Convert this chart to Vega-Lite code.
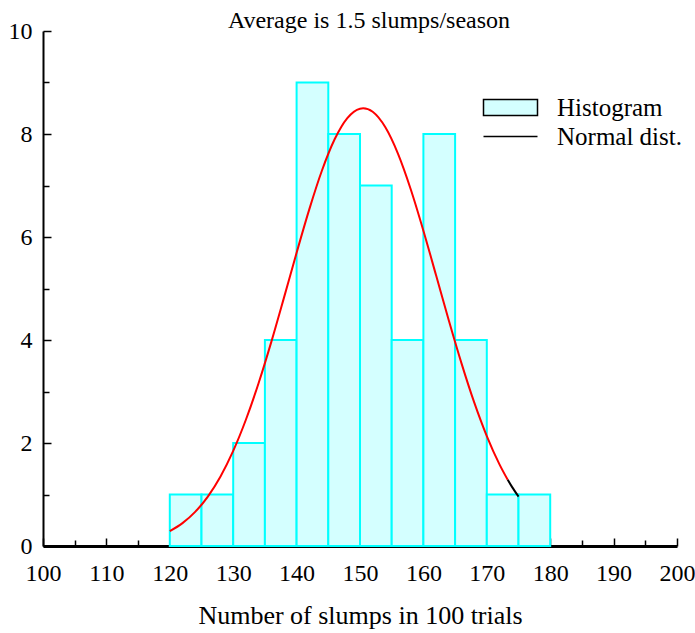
{
  "$schema": "https://vega.github.io/schema/vega-lite/v6.json",
  "width": 634,
  "height": 515,
  "autosize": "none",
  "padding": {"left": 43, "top": 31, "right": 18, "bottom": 87},
  "background": "white",
  "config": {"view": {"stroke": null}},
  "title": {"text": "Average is 1.5 slumps/season", "font": "Liberation Serif", "fontSize": 24, "fontWeight": "normal", "color": "black", "anchor": "middle", "baseline": "alphabetic", "offset": 3, "dx": 9, "dy": 36},
  "datasets": {
    "hist": [
      {"bin_start": 120, "bin_end": 125, "count": 1, "series": "Histogram"},
      {"bin_start": 125, "bin_end": 130, "count": 1, "series": "Histogram"},
      {"bin_start": 130, "bin_end": 135, "count": 2, "series": "Histogram"},
      {"bin_start": 135, "bin_end": 140, "count": 4, "series": "Histogram"},
      {"bin_start": 140, "bin_end": 145, "count": 9, "series": "Histogram"},
      {"bin_start": 145, "bin_end": 150, "count": 8, "series": "Histogram"},
      {"bin_start": 150, "bin_end": 155, "count": 7, "series": "Histogram"},
      {"bin_start": 155, "bin_end": 160, "count": 4, "series": "Histogram"},
      {"bin_start": 160, "bin_end": 165, "count": 8, "series": "Histogram"},
      {"bin_start": 165, "bin_end": 170, "count": 4, "series": "Histogram"},
      {"bin_start": 170, "bin_end": 175, "count": 1, "series": "Histogram"},
      {"bin_start": 175, "bin_end": 180, "count": 1, "series": "Histogram"}
    ],
    "curve": [
      {"x": 120, "y": 0.289, "seg": "r"},
      {"x": 122, "y": 0.444, "seg": "r"},
      {"x": 124, "y": 0.662, "seg": "r"},
      {"x": 126, "y": 0.960, "seg": "r"},
      {"x": 128, "y": 1.351, "seg": "r"},
      {"x": 130, "y": 1.846, "seg": "r"},
      {"x": 132, "y": 2.451, "seg": "r"},
      {"x": 134, "y": 3.160, "seg": "r"},
      {"x": 136, "y": 3.959, "seg": "r"},
      {"x": 138, "y": 4.818, "seg": "r"},
      {"x": 140, "y": 5.694, "seg": "r"},
      {"x": 142, "y": 6.537, "seg": "r"},
      {"x": 144, "y": 7.291, "seg": "r"},
      {"x": 146, "y": 7.897, "seg": "r"},
      {"x": 148, "y": 8.309, "seg": "r"},
      {"x": 150, "y": 8.492, "seg": "r"},
      {"x": 150.5, "y": 8.5, "seg": "r"},
      {"x": 152, "y": 8.431, "seg": "r"},
      {"x": 154, "y": 8.130, "seg": "r"},
      {"x": 156, "y": 7.615, "seg": "r"},
      {"x": 158, "y": 6.928, "seg": "r"},
      {"x": 160, "y": 6.123, "seg": "r"},
      {"x": 162, "y": 5.256, "seg": "r"},
      {"x": 164, "y": 4.383, "seg": "r"},
      {"x": 166, "y": 3.551, "seg": "r"},
      {"x": 168, "y": 2.793, "seg": "r"},
      {"x": 170, "y": 2.135, "seg": "r"},
      {"x": 172, "y": 1.585, "seg": "r"},
      {"x": 173.3, "y": 1.285, "seg": "r"},
      {"x": 173.3, "y": 1.285, "seg": "b"},
      {"x": 174, "y": 1.143, "seg": "b"},
      {"x": 175, "y": 0.960, "seg": "b"}
    ]
  },
  "resolve": {"axis": {"x": "independent", "y": "independent"}},
  "layer": [
    {
      "data": {"name": "hist"},
      "mark": {"type": "rect", "stroke": "#00ffff", "strokeWidth": 2},
      "encoding": {
        "x": {"field": "bin_start", "type": "quantitative",
          "scale": {"domain": [100, 200], "nice": false, "zero": false},
          "axis": {"orient": "bottom", "values": [100, 110, 120, 130, 140, 150, 160, 170, 180, 190, 200],
            "title": "Number of slumps in 100 trials", "titleFont": "Liberation Serif", "titleFontSize": 26, "titleFontWeight": "normal", "titleColor": "black", "titleBaseline": "alphabetic", "titleY": 77,
            "labelFont": "Liberation Serif", "labelFontSize": 24, "labelColor": "black", "labelBaseline": "alphabetic", "labelPadding": 42, "labelFlush": false, "labelOverlap": false,
            "tickSize": -8, "tickColor": "black", "tickWidth": 1.5, "domainColor": "black", "domainWidth": 3, "grid": false}},
        "x2": {"field": "bin_end"},
        "y": {"field": "count", "type": "quantitative",
          "scale": {"domain": [0, 10], "nice": false},
          "axis": {"orient": "left", "values": [0, 2, 4, 6, 8, 10], "title": null,
            "labelFont": "Liberation Serif", "labelFontSize": 24, "labelColor": "black", "labelPadding": 19, "labelFlush": false, "labelOverlap": false,
            "tickSize": -8, "tickColor": "black", "tickWidth": 1.5, "domainColor": "black", "domainWidth": 2, "grid": false}},
        "y2": {"datum": 0},
        "color": {"field": "series", "type": "nominal",
          "scale": {"domain": ["Histogram", "Normal dist."], "range": ["#d4ffff", "transparent"]},
          "legend": {"orient": "none", "legendX": 455, "legendY": 64, "title": null, "padding": 0,
            "labelFont": "Liberation Serif", "labelFontSize": 25, "labelColor": "black", "labelOffset": 34, "rowPadding": 3,
            "symbolSize": 256, "symbolStrokeWidth": 1.5, "symbolStrokeColor": "black",
            "encoding": {"symbols": {
              "shape": {"condition": {"test": "datum.value === 'Histogram'", "value": "M-3.375,-1H3.375V1H-3.375Z"}, "value": "M-3.375,0H3.375"},
              "stroke": {"value": "black"},
              "strokeWidth": {"value": 1.5},
              "opacity": {"value": 1},
              "fillOpacity": {"value": 1},
              "strokeOpacity": {"value": 1}
            }}}}
      }
    },
    {
      "data": {"name": "curve"},
      "mark": {"type": "line", "strokeWidth": 2, "interpolate": "monotone"},
      "encoding": {
        "x": {"field": "x", "type": "quantitative",
          "scale": {"domain": [100, 200], "nice": false, "zero": false},
          "axis": {"orient": "bottom", "values": [105, 115, 125, 135, 145, 155, 165, 175, 185, 195], "title": null, "labels": false, "domain": false,
            "tickSize": -6, "tickColor": "black", "tickWidth": 1.5, "grid": false}},
        "y": {"field": "y", "type": "quantitative",
          "scale": {"domain": [0, 10], "nice": false},
          "axis": {"orient": "left", "values": [1, 3, 5, 7, 9], "title": null, "labels": false, "domain": false,
            "tickSize": -6, "tickColor": "black", "tickWidth": 1.5, "grid": false}},
        "detail": {"field": "seg"},
        "color": {"condition": {"test": "datum.seg === 'b'", "value": "black"}, "value": "red"}
      }
    }
  ]
}
